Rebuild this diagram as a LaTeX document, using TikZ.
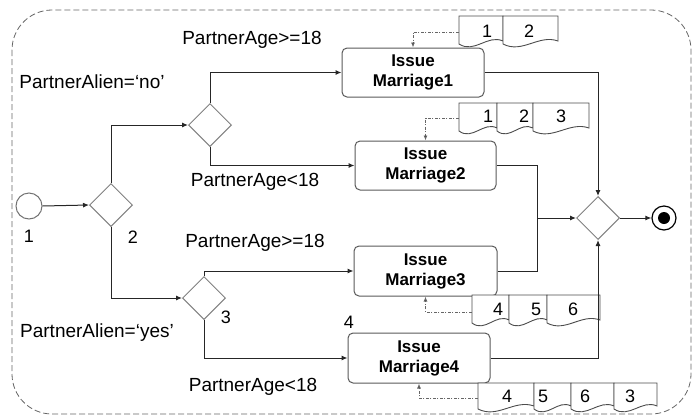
\documentclass[tikz,border=0pt]{standalone}
\usepackage{fontspec}
\setmainfont{Liberation Sans}
\usetikzlibrary{shapes.geometric,arrows.meta}
\tikzset{
  conn/.style={draw=black!85, line width=1pt, -{Latex[length=6pt,width=5pt]}},
  dotconn/.style={draw=black!60, line width=0.9pt, dash pattern=on 3pt off 1.5pt on 1pt off 1.5pt, -{Latex[length=5pt,width=4pt,fill=black]}},
  gate/.style={diamond, draw=black!50, line width=1pt, minimum width=43pt, minimum height=43pt, inner sep=0pt},
  task/.style={rectangle, rounded corners=5pt, draw=black!65, line width=1pt, align=center, font=\bfseries\fontsize{17}{20}\selectfont, inner sep=0pt},
  lbl/.style={font=\fontsize{19}{21}\selectfont, inner sep=0pt},
  num/.style={font=\fontsize{18}{20}\selectfont, inner sep=0pt},
  docline/.style={draw=black!70, line width=0.9pt, fill=white},
  docarea/.style={rectangle, inner sep=0pt},
}
\newcommand\doccell[4]{%
  \draw[docline] (#1,#3) -- (#2,#3) -- (#2,{#4-3})
    .. controls ({#2-0.35*(#2-#1)},{#4-10}) and ({#1+0.35*(#2-#1)},{#4+10}) .. (#1,#4) -- cycle;}
\begin{document}
\begin{tikzpicture}[x=1pt,y=-1pt]
\useasboundingbox (0,0) rectangle (693,416);
\draw[draw=black!60, line width=0.8pt, dash pattern=on 6pt off 3pt, rounded corners=40pt] (12,10) rectangle (691,414);

% events and gateways
\node[circle, draw=black!55, line width=1pt, minimum size=26pt, inner sep=0pt] (start) at (29,206) {};
\node[gate] (d2) at (111,205) {};
\node[gate] (dA) at (210,125) {};
\node[gate] (dB) at (204,298) {};
\node[gate] (dM) at (598,218) {};
\node[circle, draw=black, line width=1.2pt, minimum size=24pt, inner sep=0pt] (end) at (664,218) {};
\node[circle, fill=black, minimum size=12pt, inner sep=0pt] (endin) at (664,218) {};

% tasks
\node[task, minimum width=142pt, minimum height=49pt] (m1) at (413,72.5) {Issue\\Marriage1};
\node[task, minimum width=141pt, minimum height=49pt] (m2) at (425.5,165.5) {Issue\\Marriage2};
\node[task, minimum width=143pt, minimum height=50pt] (m3) at (425.5,271) {Issue\\Marriage3};
\node[task, minimum width=142pt, minimum height=50pt] (m4) at (419,358) {Issue\\Marriage4};

% documents
\doccell{459}{503}{16}{44}\doccell{503}{558}{16}{44}
\node[num] (d1n1) at (487,31) {1};
\node[num] (d1n2) at (529,31) {2};
\node[docarea, minimum width=99pt, minimum height=32pt] (doc1) at (508.5,32) {};

\doccell{459}{497}{103}{131}\doccell{497}{533}{103}{131}\doccell{533}{589}{103}{131}
\node[num] (d2n1) at (488,116) {1};
\node[num] (d2n2) at (524,116) {2};
\node[num] (d2n3) at (561,116) {3};
\node[docarea, minimum width=130pt, minimum height=30pt] (doc2) at (524,118) {};

\doccell{472}{509}{295}{323}\doccell{509}{547}{295}{323}\doccell{547}{600}{295}{323}
\node[num] (d3n1) at (498,309) {4};
\node[num] (d3n2) at (536,309) {5};
\node[num] (d3n3) at (573,309) {6};
\node[docarea, minimum width=128pt, minimum height=34pt] (doc3) at (536,312) {};

\doccell{478}{534}{383}{409}\doccell{534}{571}{383}{409}\doccell{571}{614}{383}{409}\doccell{614}{657}{383}{409}
\node[num] (d4n1) at (507,396) {4};
\node[num] (d4n2) at (543,396) {5};
\node[num] (d4n3) at (585,396) {6};
\node[num] (d4n4) at (630,396) {3};
\node[docarea, minimum width=179pt, minimum height=30pt] (doc4) at (567.5,398) {};

% labels
\node[lbl] (l1) at (252,40) {PartnerAge>=18};
\node[lbl] (l2) at (92,82) {PartnerAlien=‘no’};
\node[lbl] (l3) at (255,182) {PartnerAge<18};
\node[num] (n1) at (29,236) {1};
\node[num] (n2) at (133,237) {2};
\node[lbl] (l4) at (255,243) {PartnerAge>=18};
\node[num] (n3) at (226,317) {3};
\node[lbl] (l5) at (97,333) {PartnerAlien=‘yes’};
\node[lbl] (l6) at (253,387) {PartnerAge<18};
\node[num] (n4) at (349,322) {4};

% connectors
\coordinate (join) at (537,218);
\draw[conn] (start.east) -- (d2.west);
\draw[conn] (d2.north) |- (dA.west);
\draw[conn] (d2.south) |- (dB.west);
\draw[conn] (dA.north) |- (m1.west);
\draw[conn] (dA.south) |- (m2.west);
\draw[conn] (dB.north) |- (m3.west);
\draw[conn] (dB.south) |- (m4.west);
\draw[conn] (m1.east) -| (dM.north);
\draw[draw=black!85, line width=1pt] (m2.east) -| (join);
\draw[draw=black!85, line width=1pt] (m3.east) -| (join);
\draw[conn] (join) -- (dM.west);
\draw[conn] (m4.east) -| (dM.south);
\draw[conn] (dM.east) -- (end.west);

\draw[dotconn] (doc1.west) -| (m1.north);
\draw[dotconn] (doc2.west) -| (m2.north);
\draw[dotconn] (doc3.west) -| (m3.south);
\draw[dotconn] (doc4.west) -| (m4.south);
\end{tikzpicture}
\end{document}
